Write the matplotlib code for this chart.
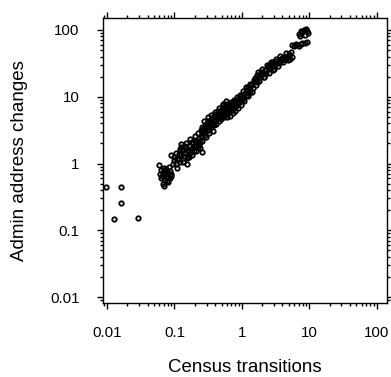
import numpy as np
import matplotlib
matplotlib.use("Agg")
import matplotlib.pyplot as plt
from matplotlib.ticker import LogLocator, NullFormatter, FixedFormatter, FixedLocator

plt.rcParams['font.family'] = ['Liberation Sans', 'DejaVu Sans']

# Low outliers (very few census transitions)
outlier_census = [0.0097, 0.016, 0.016, 0.0127, 0.0285]
outlier_admin = [0.45, 0.45, 0.26, 0.145, 0.151]

# Main band, low end
low_census = [0.059, 0.0625, 0.068, 0.073, 0.080, 0.087, 0.064, 0.0716, 0.080, 0.069,
              0.085, 0.090, 0.076, 0.083, 0.066, 0.070, 0.075, 0.078, 0.062, 0.068,
              0.072, 0.088, 0.081]
low_admin = [0.96, 0.80, 0.74, 0.70, 0.72, 0.77, 0.61, 0.57, 0.52, 0.457,
             0.60, 0.70, 0.83, 0.88, 0.66, 0.85, 0.63, 0.55, 0.70, 0.50,
             0.78, 0.66, 0.62]

# Main band, 0.09 - 0.28
mid_census = [0.090, 0.099, 0.107, 0.116, 0.127, 0.135, 0.1425, 0.156, 0.163, 0.179,
              0.20, 0.226, 0.127, 0.12, 0.253, 0.18, 0.253, 0.095, 0.10, 0.11,
              0.115, 0.12, 0.13, 0.14, 0.145, 0.15, 0.155, 0.16, 0.17, 0.165,
              0.175, 0.185, 0.19, 0.195, 0.21, 0.215, 0.22, 0.23, 0.24, 0.235,
              0.25, 0.105, 0.11, 0.125, 0.135, 0.15, 0.16, 0.17, 0.18, 0.2,
              0.21, 0.22, 0.24, 0.245, 0.26, 0.28]
mid_admin = [1.32, 1.11, 0.99, 1.18, 1.32, 1.57, 1.86, 0.97, 1.24, 1.48,
             1.75, 2.01, 1.93, 1.66, 1.48, 2.09, 3.1, 1.0, 1.25, 1.15,
             1.4, 1.05, 1.6, 1.3, 1.45, 1.7, 1.2, 1.55, 1.8, 1.4,
             1.6, 1.7, 2.0, 1.55, 1.9, 2.2, 1.75, 2.4, 2.1, 1.9,
             2.6, 1.45, 0.85, 1.75, 1.05, 2.0, 1.25, 2.3, 1.35, 2.6,
             1.55, 2.9, 1.7, 3.2, 2.2, 3.6]

# Main band, 0.2 - 6
high_census = [0.283, 0.318, 0.356, 0.40, 0.474, 0.532, 0.63, 0.20, 0.253, 0.318,
               0.40, 0.53, 0.63, 0.71, 0.84, 1.0, 1.06, 1.26, 1.33, 1.50,
               1.68, 1.78, 2.11, 2.51, 2.97, 3.73, 4.43, 4.98, 5.25,
               0.26, 0.27, 0.28, 0.29, 0.30, 0.31, 0.32, 0.33, 0.34, 0.35,
               0.36, 0.37, 0.38, 0.39, 0.41, 0.42, 0.43, 0.44, 0.45, 0.46,
               0.47, 0.48, 0.50, 0.51, 0.52, 0.54, 0.55, 0.57, 0.58, 0.60,
               0.61, 0.63, 0.65, 0.67, 0.68, 0.70, 0.72, 0.74, 0.76, 0.78,
               0.80, 0.82, 0.85, 0.87, 0.90, 0.92, 0.95, 0.98, 1.02, 1.05,
               1.1, 1.15, 1.2, 1.25, 1.3, 1.38, 1.45, 1.55, 1.6, 1.7,
               1.85, 1.95, 2.05, 2.2, 2.3, 2.4, 2.6, 2.75, 3.1, 3.3,
               3.5, 3.9, 4.2, 4.6, 5.0, 5.5, 4.0, 3.0, 2.9,
               0.27, 0.29, 0.31, 0.33, 0.35, 0.37, 0.40, 0.42, 0.44, 0.46,
               0.49, 0.52, 0.55, 0.58, 0.60, 0.64, 0.66, 0.70, 0.73, 0.77,
               0.80, 0.84, 0.88, 0.93, 0.97, 1.04, 1.08, 1.15, 1.22, 1.3,
               1.4, 1.5, 1.6, 1.75, 1.8, 2.0, 2.15, 2.35, 2.5, 2.7,
               2.85, 3.2, 3.4, 3.7, 4.1, 4.5, 4.8, 5.3]
high_admin = [3.7, 3.3, 3.94, 4.68, 4.94, 5.56, 5.9, 2.21, 3.5, 4.4,
              4.9, 7.4, 6.0, 7.2, 8.0, 9.3, 10.5, 11.5, 13.8, 16.5,
              16.6, 20.9, 19.7, 29.5, 26.3, 35, 37, 41.5, 37,
              2.9, 3.4, 2.7, 3.9, 3.2, 4.1, 3.6, 2.9, 4.4, 3.5,
              4.8, 4.0, 5.2, 3.8, 4.5, 5.6, 4.9, 6.1, 5.3, 4.4,
              6.0, 5.6, 6.6, 5.1, 6.2, 7.0, 5.9, 6.8, 7.8, 5.6,
              6.3, 6.9, 6.0, 6.6, 7.5, 6.3, 7.0, 8.2, 6.7, 7.6,
              8.6, 7.2, 8.8, 7.9, 9.6, 8.4, 9.2, 10.4, 8.8, 10.0,
              11.2, 10.2, 12.6, 13.9, 12.1, 15.0, 13.6, 19.0, 17.5, 21.5,
              20.0, 23.5, 22.0, 25.5, 23.0, 28.0, 27.0, 30.5, 31.0, 34.0,
              32.0, 37.5, 40.0, 39.0, 44.0, 40.0, 35.0, 28.5, 33.0,
              4.3, 2.5, 4.9, 3.2, 5.4, 3.1, 6.0, 3.9, 5.0, 6.8,
              4.6, 7.9, 5.0, 8.6, 4.9, 7.6, 5.2, 8.4, 5.8, 9.0,
              6.2, 9.9, 6.8, 10.8, 7.4, 12.0, 8.6, 13.8, 10.2, 15.3,
              11.8, 18.0, 15.0, 23.5, 17.5, 26.0, 19.5, 30.0, 22.5, 33.0,
              25.5, 37.0, 29.0, 41.0, 33.0, 45.0, 36.0, 47.0]

# Two small groups at the top end
top_census = [7.0, 7.5, 7.9, 8.3, 8.8, 9.2, 9.7, 8.5, 7.3,
              5.6, 5.9, 6.3, 6.6, 7.0, 7.5, 7.9, 9.3, 8.5]
top_admin = [88, 95, 93, 100, 105, 98, 90, 85, 82,
             60, 57, 62, 60, 58, 62, 64, 66, 63]

decade_ticks = [0.01, 0.1, 1, 10, 100]
decade_labels = ["0.01", "0.1", "1", "10", "100"]

census = np.array(outlier_census + low_census + mid_census + high_census + top_census)
admin = np.array(outlier_admin + low_admin + mid_admin + high_admin + top_admin)

W, H = 391, 377
fig = plt.figure(figsize=(W / 100, H / 100), dpi=100)
ax = fig.add_axes([102.7 / W, 1 - 302.7 / H, (386.7 - 102.7) / W, (302.7 - 18.3) / H])

ax.plot(census, admin, 'o', mfc='none', mec='black', ms=3.2, mew=1.3)

ax.set_xscale('log')
ax.set_yscale('log')
ax.set_xlim(10 ** -2.064, 10 ** 2.148)
ax.set_ylim(10 ** -2.085, 10 ** 2.175)

for axis in (ax.xaxis, ax.yaxis):
    axis.set_major_locator(FixedLocator(decade_ticks))
    axis.set_major_formatter(FixedFormatter(decade_labels))
    axis.set_minor_locator(LogLocator(base=10, subs=np.arange(2, 10), numticks=20))
    axis.set_minor_formatter(NullFormatter())

ax.tick_params(which='both', direction='out', top=True, right=True,
               labeltop=False, labelright=False, width=1.0, color='black')
ax.tick_params(which='major', length=4.6, labelsize=10.8, pad=12)
ax.tick_params(which='minor', length=2.5)

for sp in ax.spines.values():
    sp.set_linewidth(1.0)
    sp.set_color('black')

ax.set_xlabel("Census transitions", fontsize=13.5, va='center')
ax.set_ylabel("Admin address changes", fontsize=13.5, va='center')
ax.xaxis.set_label_coords(0.5, (302.7 - 368) / 284.4)
ax.yaxis.set_label_coords((19 - 102.7) / 284.0, 0.5)

fig.savefig("out.png", dpi=100)
